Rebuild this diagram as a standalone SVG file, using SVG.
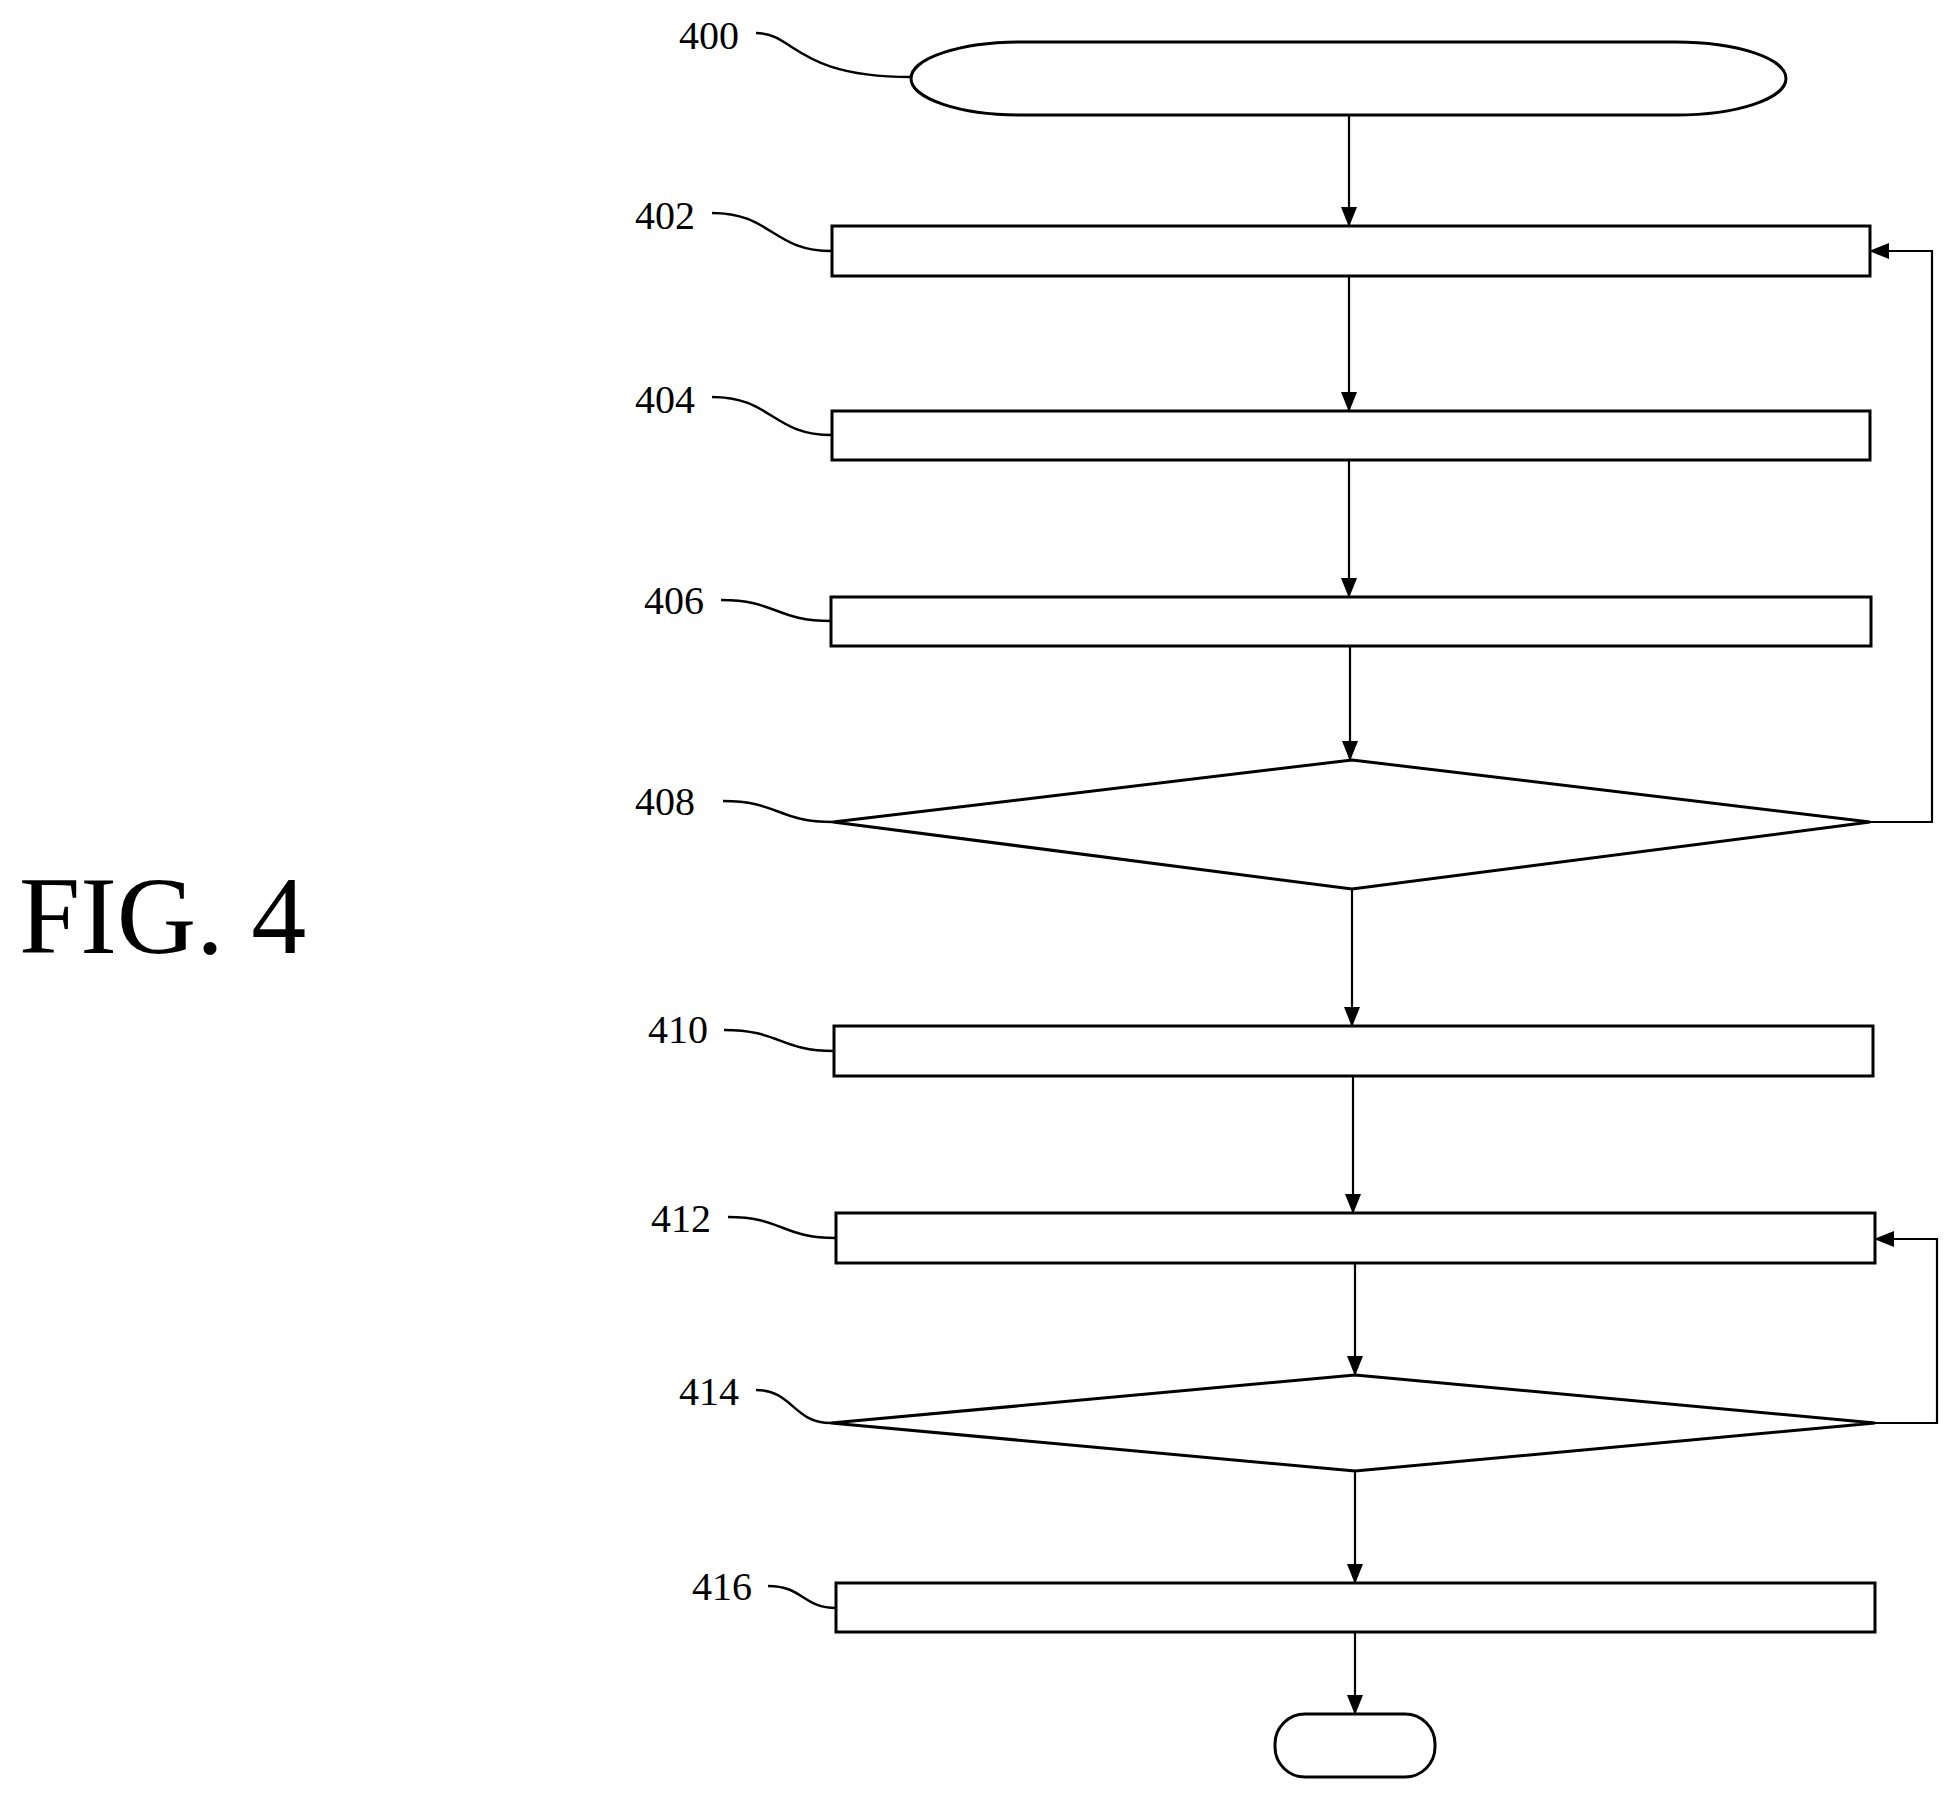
<svg xmlns="http://www.w3.org/2000/svg" width="1957" height="1803" viewBox="0 0 1957 1803">
<style>
.s{fill:#fff;stroke:#000;stroke-width:3}
.c{fill:none;stroke:#000;stroke-width:2.2}
.l{fill:none;stroke:#000;stroke-width:2.5}
text{font-family:"Liberation Serif",serif;font-size:40px;fill:#000}
</style>
<defs><marker id="a" markerWidth="20" markerHeight="16" refX="19" refY="8" orient="auto" markerUnits="userSpaceOnUse"><path d="M0,0L20,8L0,16z"/></marker></defs>
<rect width="1957" height="1803" fill="#fff"/>
<text x="19" y="953" style="font-size:110px">FIG. 4</text>
<g id="n400"><rect class="s" x="911" y="42" width="875" height="73" rx="110" ry="36.5"/><text x="679" y="49">400</text><path class="l" d="M756,33C795,33 795,77 911,77" /></g>
<g id="n402"><rect class="s" x="832" y="226" width="1038" height="50"/><text x="635" y="229">402</text><path class="l" d="M712,213C772,213 772,251 832,251"/></g>
<g id="n404"><rect class="s" x="832" y="411" width="1038" height="49"/><text x="635" y="413">404</text><path class="l" d="M712,397C772,397 772,435 832,435"/></g>
<g id="n406"><rect class="s" x="831" y="597" width="1040" height="49"/><text x="644" y="614">406</text><path class="l" d="M721,600C776,600 776,621 831,621"/></g>
<g id="n408"><path class="s" d="M1352,760L1870,822L1352,889L833,822z"/><text x="635" y="815">408</text><path class="l" d="M723,801C778,801 778,822 833,822"/></g>
<g id="n410"><rect class="s" x="834" y="1026" width="1039" height="50"/><text x="648" y="1043">410</text><path class="l" d="M724,1030C780,1030 780,1051 834,1051"/></g>
<g id="n412"><rect class="s" x="836" y="1213" width="1039" height="50"/><text x="651" y="1232">412</text><path class="l" d="M728,1217C782,1217 782,1238 836,1238"/></g>
<g id="n414"><path class="s" d="M1355,1375L1875,1423L1355,1471L831,1423z"/><text x="679" y="1405">414</text><path class="l" d="M756,1390C793,1390 793,1423 831,1423"/></g>
<g id="n416"><rect class="s" x="836" y="1583" width="1039" height="49"/><text x="692" y="1600">416</text><path class="l" d="M768,1586C803,1586 803,1608 836,1608"/></g>
<g id="nend"><rect class="s" x="1275" y="1714" width="160" height="63" rx="30"/></g>
<g id="connectors">
<path class="c" marker-end="url(#a)" d="M1349,115V226"/>
<path class="c" marker-end="url(#a)" d="M1349,276V411"/>
<path class="c" marker-end="url(#a)" d="M1349,460V597"/>
<path class="c" marker-end="url(#a)" d="M1350,646V760"/>
<path class="c" marker-end="url(#a)" d="M1870,822H1932V251H1870"/>
<path class="c" marker-end="url(#a)" d="M1352,889V1026"/>
<path class="c" marker-end="url(#a)" d="M1353,1076V1213"/>
<path class="c" marker-end="url(#a)" d="M1355,1263V1375"/>
<path class="c" marker-end="url(#a)" d="M1875,1423H1937V1239H1875"/>
<path class="c" marker-end="url(#a)" d="M1355,1471V1583"/>
<path class="c" marker-end="url(#a)" d="M1355,1632V1714"/>
</g>
</svg>
